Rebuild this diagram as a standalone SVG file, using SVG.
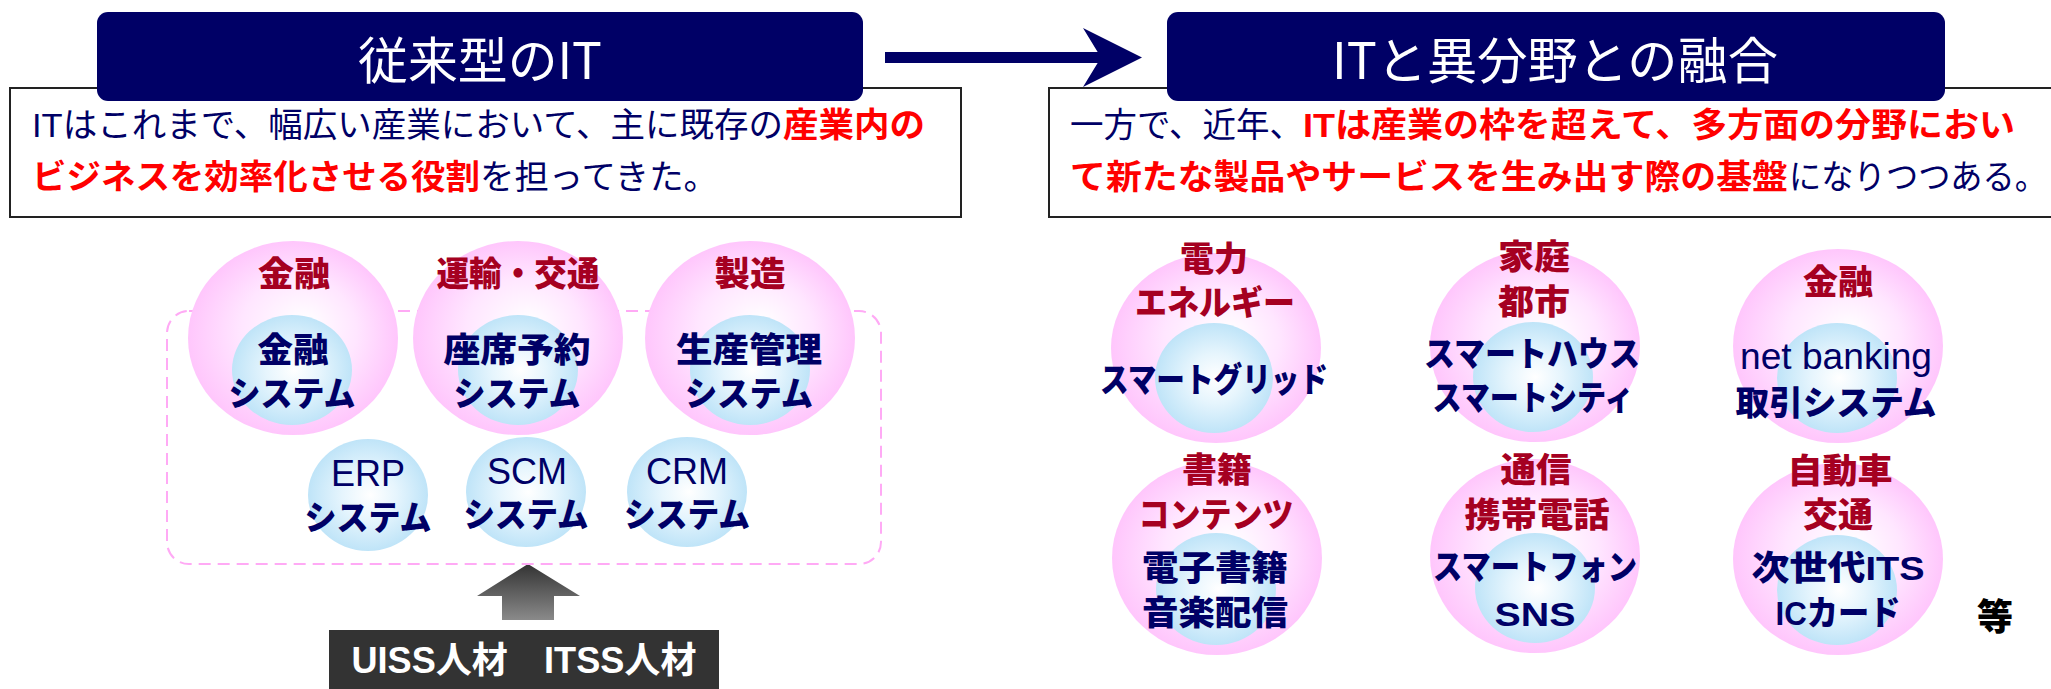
<svg xmlns="http://www.w3.org/2000/svg" width="2051" height="689" viewBox="0 0 2051 689">
<defs>
<radialGradient id="pink" cx="0.5" cy="0.5" r="0.5" fx="0.56" fy="0.42">
<stop offset="0" stop-color="#FFFFFF"/>
<stop offset="0.55" stop-color="#FFE6FF"/>
<stop offset="1" stop-color="#FFC6FC"/>
</radialGradient>
<radialGradient id="blue" cx="0.5" cy="0.5" r="0.5" fx="0.52" fy="0.5">
<stop offset="0" stop-color="#FFFFFF"/>
<stop offset="0.45" stop-color="#E6F5FD"/>
<stop offset="1" stop-color="#BFE4F8"/>
</radialGradient>
<linearGradient id="gray" x1="0" y1="0" x2="0" y2="1">
<stop offset="0" stop-color="#333333"/>
<stop offset="1" stop-color="#8A8A8A"/>
</linearGradient>
<style>
.tbox{fill:#000066;}
.ttl{font-family:"Noto Sans CJK JP","Noto Sans CJK SC",sans-serif;font-size:50px;fill:#FFFFFF;text-anchor:middle;}
.frame{fill:#FFFFFF;stroke:#222222;stroke-width:2;}
.b{font-family:"Liberation Sans","Noto Sans CJK JP",sans-serif;font-size:34px;}
.nv{fill:#000066;}
.rd{fill:#FF0000;font-weight:bold;}
.pk{fill:url(#pink);}
.bl{fill:url(#blue);}
.cat{font-family:"Noto Sans CJK JP",sans-serif;font-weight:900;font-size:34px;fill:#A50021;text-anchor:middle;}
.sys{font-family:"Liberation Sans","Noto Sans CJK JP",sans-serif;font-weight:900;font-size:34px;fill:#000066;text-anchor:middle;}
.lat{font-family:"Liberation Sans",Arial,sans-serif;font-size:36px;fill:#000066;text-anchor:middle;}
.dash{fill:none;stroke:#FFAAF5;stroke-width:2;stroke-dasharray:12 7;}
</style>
</defs>
<rect width="2051" height="689" fill="#FFFFFF"/>

<!-- Left header -->
<g id="left-text">
<rect class="frame" x="10" y="88" width="951" height="129"/>
<text class="b nv" x="32" y="137" textLength="751" lengthAdjust="spacingAndGlyphs">ITはこれまで、幅広い産業において、主に既存の</text>
<text class="b rd" x="783" y="137" textLength="142" lengthAdjust="spacingAndGlyphs">産業内の</text>
<text class="b rd" x="32" y="189" textLength="448" lengthAdjust="spacingAndGlyphs">ビジネスを効率化させる役割</text>
<text class="b nv" x="480" y="189" textLength="238" lengthAdjust="spacingAndGlyphs">を担ってきた。</text>
</g>
<g id="left-title">
<rect class="tbox" x="97" y="12" width="766" height="89" rx="11"/>
<text class="ttl" x="480" y="79" textLength="244" lengthAdjust="spacingAndGlyphs">従来型のIT</text>
</g>

<!-- Right header -->
<g id="right-text">
<rect class="frame" x="1049" y="88" width="1010" height="129"/>
<text class="b nv" x="1070" y="137" textLength="233" lengthAdjust="spacingAndGlyphs">一方で、近年、</text>
<text class="b rd" x="1303" y="137" textLength="712" lengthAdjust="spacingAndGlyphs">ITは産業の枠を超えて、多方面の分野におい</text>
<text class="b rd" x="1070" y="189" textLength="718" lengthAdjust="spacingAndGlyphs">て新たな製品やサービスを生み出す際の基盤</text>
<text class="b nv" x="1789" y="189" textLength="258" lengthAdjust="spacingAndGlyphs">になりつつある。</text>
</g>
<g id="right-title">
<rect class="tbox" x="1167" y="12" width="778" height="89" rx="11"/>
<text class="ttl" x="1555" y="79" textLength="446" lengthAdjust="spacingAndGlyphs">ITと異分野との融合</text>
</g>

<!-- Connectors -->
<g id="connectors">
<rect x="885" y="52" width="218" height="11" fill="#000066"/>
<polygon points="1083,28 1142,57.5 1083,87 1101,57.5" fill="#000066"/>
<polygon points="528,564 580,596 554,596 554,620 502,620 502,596 477,596" fill="url(#gray)"/>
</g>

<!-- Left cluster -->
<g id="it-area">
<rect class="dash" x="167" y="311" width="714" height="253" rx="22"/>
</g>
<g id="kinyu-left">
<ellipse class="pk" cx="293" cy="338" rx="105" ry="97"/>
<ellipse class="bl" cx="292" cy="370" rx="60" ry="55"/>
<text class="cat" x="294" y="286" textLength="72" lengthAdjust="spacingAndGlyphs">金融</text>
<text class="sys" x="293" y="362" textLength="71" lengthAdjust="spacingAndGlyphs">金融</text>
<text class="sys" x="292" y="406" textLength="127" lengthAdjust="spacingAndGlyphs">システム</text>
</g>
<g id="unyu">
<ellipse class="pk" cx="518" cy="338" rx="105" ry="97"/>
<ellipse class="bl" cx="518" cy="370" rx="60" ry="55"/>
<text class="cat" x="518" y="286" textLength="163" lengthAdjust="spacingAndGlyphs">運輸・交通</text>
<text class="sys" x="517" y="362" textLength="147" lengthAdjust="spacingAndGlyphs">座席予約</text>
<text class="sys" x="517" y="406" textLength="127" lengthAdjust="spacingAndGlyphs">システム</text>
</g>
<g id="seizo">
<ellipse class="pk" cx="750" cy="338" rx="105" ry="97"/>
<ellipse class="bl" cx="750" cy="370" rx="60" ry="55"/>
<text class="cat" x="750" y="286" textLength="71" lengthAdjust="spacingAndGlyphs">製造</text>
<text class="sys" x="749" y="362" textLength="146" lengthAdjust="spacingAndGlyphs">生産管理</text>
<text class="sys" x="749" y="406" textLength="128" lengthAdjust="spacingAndGlyphs">システム</text>
</g>
<g id="erp">
<ellipse class="bl" cx="368" cy="495" rx="60" ry="56"/>
<text class="lat" x="368" y="486">ERP</text>
<text class="sys" x="368" y="530" textLength="127" lengthAdjust="spacingAndGlyphs">システム</text>
</g>
<g id="scm">
<ellipse class="bl" cx="526" cy="492" rx="60" ry="55"/>
<text class="lat" x="527" y="484">SCM</text>
<text class="sys" x="526" y="527" textLength="125" lengthAdjust="spacingAndGlyphs">システム</text>
</g>
<g id="crm">
<ellipse class="bl" cx="687" cy="492" rx="60" ry="55"/>
<text class="lat" x="687" y="484">CRM</text>
<text class="sys" x="687" y="527" textLength="126" lengthAdjust="spacingAndGlyphs">システム</text>
</g>
<g id="jinzai">
<rect x="329" y="630" width="390" height="70" fill="#333333"/>
<text x="524" y="673" font-family="Liberation Sans, Noto Sans CJK JP, sans-serif" font-weight="bold" font-size="36" fill="#FFFFFF" text-anchor="middle" textLength="345" lengthAdjust="spacingAndGlyphs">UISS人材　ITSS人材</text>
</g>

<!-- Right cluster -->
<g id="denryoku">
<ellipse class="pk" cx="1216" cy="348" rx="105" ry="95"/>
<ellipse class="bl" cx="1214" cy="378" rx="59" ry="55"/>
<text class="cat" x="1214" y="271" textLength="68" lengthAdjust="spacingAndGlyphs">電力</text>
<text class="cat" x="1215" y="315" textLength="160" lengthAdjust="spacingAndGlyphs">エネルギー</text>
<text class="sys" x="1214" y="392" textLength="228" lengthAdjust="spacingAndGlyphs">スマートグリッド</text>
</g>
<g id="katei">
<ellipse class="pk" cx="1535" cy="346" rx="105" ry="96"/>
<ellipse class="bl" cx="1533" cy="377" rx="60" ry="55"/>
<text class="cat" x="1534" y="269" textLength="72" lengthAdjust="spacingAndGlyphs">家庭</text>
<text class="cat" x="1534" y="314" textLength="72" lengthAdjust="spacingAndGlyphs">都市</text>
<text class="sys" x="1532" y="366" textLength="216" lengthAdjust="spacingAndGlyphs">スマートハウス</text>
<text class="sys" x="1533" y="410" textLength="201" lengthAdjust="spacingAndGlyphs">スマートシティ</text>
</g>
<g id="kinyu-right">
<ellipse class="pk" cx="1838" cy="346" rx="105" ry="97"/>
<ellipse class="bl" cx="1837" cy="378" rx="60" ry="55"/>
<text class="cat" x="1838" y="294" textLength="70" lengthAdjust="spacingAndGlyphs">金融</text>
<text class="lat" x="1836" y="369" textLength="192" lengthAdjust="spacingAndGlyphs">net banking</text>
<text class="sys" x="1836" y="415" textLength="201" lengthAdjust="spacingAndGlyphs">取引システム</text>
</g>
<g id="shoseki">
<ellipse class="pk" cx="1217" cy="558" rx="105" ry="97"/>
<ellipse class="bl" cx="1216" cy="589" rx="60" ry="56"/>
<text class="cat" x="1217" y="482" textLength="70" lengthAdjust="spacingAndGlyphs">書籍</text>
<text class="cat" x="1216" y="527" textLength="155" lengthAdjust="spacingAndGlyphs">コンテンツ</text>
<text class="sys" x="1215" y="580" textLength="146" lengthAdjust="spacingAndGlyphs">電子書籍</text>
<text class="sys" x="1215" y="625" textLength="146" lengthAdjust="spacingAndGlyphs">音楽配信</text>
</g>
<g id="tsushin">
<ellipse class="pk" cx="1535" cy="556" rx="105" ry="97"/>
<ellipse class="bl" cx="1535" cy="588" rx="60" ry="55"/>
<text class="cat" x="1536" y="482" textLength="71" lengthAdjust="spacingAndGlyphs">通信</text>
<text class="cat" x="1537" y="527" textLength="145" lengthAdjust="spacingAndGlyphs">携帯電話</text>
<text class="sys" x="1535" y="579" textLength="204" lengthAdjust="spacingAndGlyphs">スマートフォン</text>
<text class="sys" x="1535" y="626" textLength="81" lengthAdjust="spacingAndGlyphs" font-family="Liberation Sans, Arial, sans-serif" font-weight="bold">SNS</text>
</g>
<g id="jidosha">
<ellipse class="pk" cx="1838" cy="559" rx="105" ry="96"/>
<ellipse class="bl" cx="1837" cy="590" rx="60" ry="55"/>
<text class="cat" x="1840" y="483" textLength="105" lengthAdjust="spacingAndGlyphs">自動車</text>
<text class="cat" x="1838" y="527" textLength="70" lengthAdjust="spacingAndGlyphs">交通</text>
<text class="sys" x="1838" y="580" textLength="173" lengthAdjust="spacingAndGlyphs">次世代ITS</text>
<text class="sys" x="1838" y="625" textLength="125" lengthAdjust="spacingAndGlyphs">ICカード</text>
</g>
<g id="etc">
<text x="1995" y="630" font-family="Noto Sans CJK JP, sans-serif" font-weight="900" font-size="36" fill="#000000" text-anchor="middle">等</text>
</g>
</svg>
